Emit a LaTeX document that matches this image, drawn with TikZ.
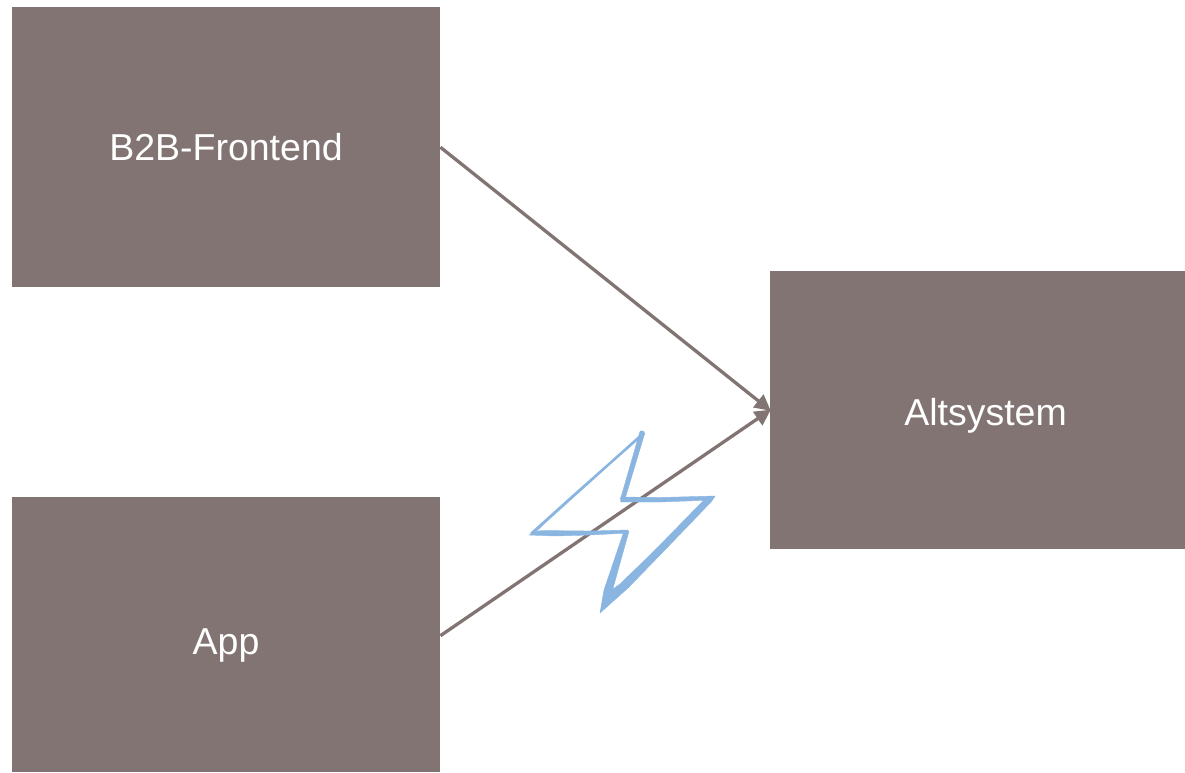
\documentclass[tikz,border=0pt]{standalone}
\usepackage{fontspec}
\setmainfont{Liberation Sans}
\usetikzlibrary{arrows.meta}
\definecolor{boxc}{HTML}{827473}
\definecolor{boltc}{HTML}{8AB5E1}
\tikzset{
  sysbox/.style={fill=boxc,draw=none,inner sep=0pt,anchor=north west},
  syslabel/.style={text=white,inner sep=0pt,anchor=base,font=\fontsize{37.5}{44}\selectfont},
  link/.style={draw=boxc,line width=3.3pt,-{Triangle[length=16pt,width=16pt]},shorten >=-1pt},
  boltedge/.style={fill=boltc,draw=boltc,line width=.4pt,line join=round}
}
\begin{document}
\begin{tikzpicture}[x=1pt,y=-1pt]
\useasboundingbox (0,0) rectangle (1185,772);
\node[sysbox,minimum width=428pt,minimum height=280pt] (b2b) at (12,7) {};
\node[sysbox,minimum width=428pt,minimum height=275pt] (app) at (12,497) {};
\node[sysbox,minimum width=415pt,minimum height=278pt] (alt) at (770,271) {};
\node[syslabel] (b2bl) at (226,160.5) {B2B-Frontend};
\node[syslabel] (appl) at (226,654) {App};
\node[syslabel] (altl) at (985.5,425.5) {Altsystem};
\draw[link] (b2b.east) -- (alt.west);
\draw[link] ([yshift=-1pt]app.east) -- (alt.west);
% lightning bolt
\fill[boltc] (639,435.5) -- (610,461.5) -- (575,492.5) -- (545,519.5) -- (530,533) -- (533,535) -- (546,522.5) -- (576,495.5) -- (611,464) -- (641,437.5) -- cycle;
\fill[boltc] (642,433.5) circle (3pt);
\filldraw[boltedge] (639.5,433) -- (644.5,434) -- (625,499) -- (620.5,499) -- cycle;
\filldraw[boltedge] (620.5,497) -- (660,497.5) -- (715,496) -- (712,500) -- (660,502) -- (620.5,502) -- cycle;
\filldraw[boltedge] (715,496) -- (711,502) -- (662,553) -- (628,588) -- (600,613) -- (606,594) -- (620,584) -- (653,552) -- (704,500) -- cycle;
\filldraw[boltedge] (600,613) -- (604,590) -- (624,531) -- (629,531) -- (612,592) -- cycle;
\filldraw[boltedge] (529,535) -- (540,530.5) -- (590,531) -- (628,530) -- (628,533) -- (590,535) -- (555,536) -- cycle;
\end{tikzpicture}
\end{document}
